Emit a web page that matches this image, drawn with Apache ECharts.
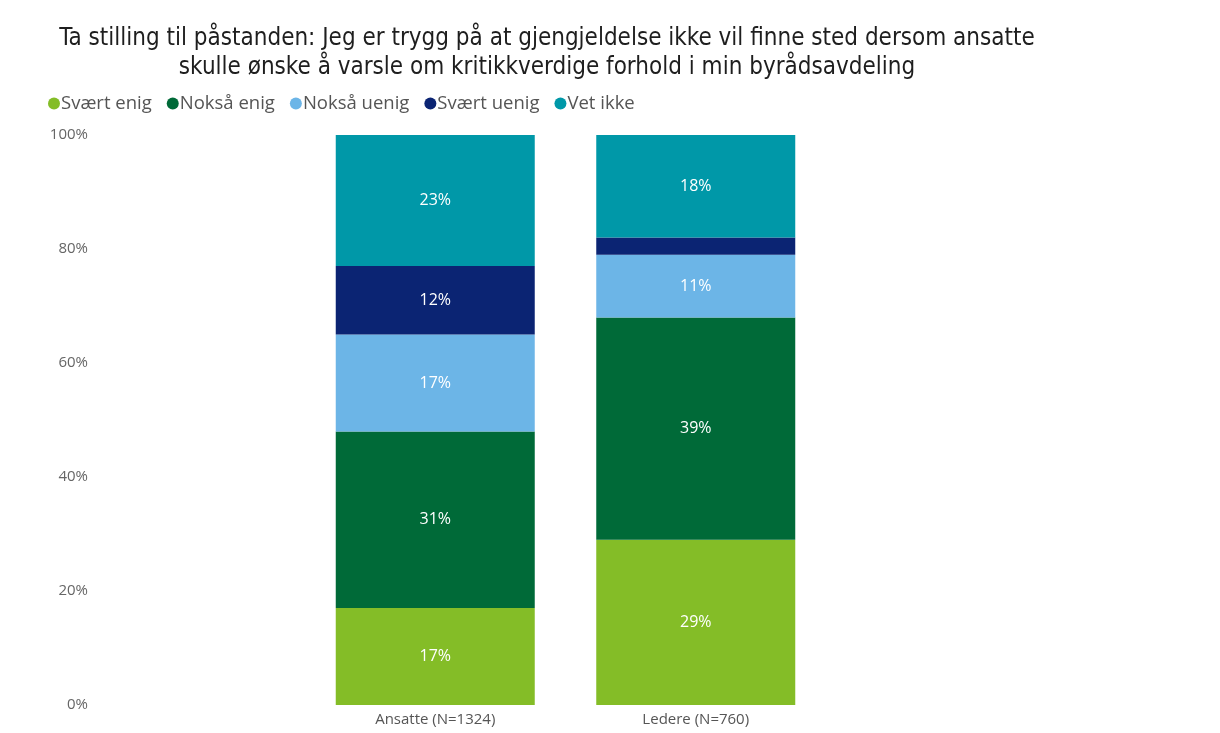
<!DOCTYPE html>
<html>
<head>
<meta charset="utf-8">
<script src="https://cdn.jsdelivr.net/npm/echarts@6/dist/echarts.min.js"></script>
<style>
  html, body { margin: 0; padding: 0; background: #fff; }
  #chart { width: 1220px; height: 733px; }
</style>
</head>
<body>
<div id="chart"></div>
<script>
const categories = ['Ansatte (N=1324)', 'Ledere (N=760)'];
const seriesNames = ['Svært enig', 'Nokså enig', 'Nokså uenig', 'Svært uenig', 'Vet ikke'];
const svaertEnig = [17, 29];
const noksaEnig = [31, 39];
const noksaUenig = [17, 11];
const svaertUenig = [12, 3];
const vetIkke = [23, 18];
const yTicks = [0, 20, 40, 60, 80, 100];

const colors = ['#84bd27', '#006a38', '#6cb5e7', '#0b2473', '#0098a8'];
const values = [svaertEnig, noksaEnig, noksaUenig, svaertUenig, vetIkke];

const chart = echarts.init(document.getElementById('chart'));

const option = {
  animation: false,
  title: {
    text: 'Ta stilling til påstanden: Jeg er trygg på at gjengjeldelse ikke vil finne sted dersom ansatte\nskulle ønske å varsle om kritikkverdige forhold i min byrådsavdeling',
    left: 542,
    top: 19,
    textAlign: 'center',
    textStyle: {
      fontFamily: 'DejaVu Sans Condensed',
      fontWeight: 'normal',
      fontSize: 24,
      lineHeight: 29,
      color: '#1e1e1e'
    }
  },
  legend: {
    left: 43,
    top: 89,
    icon: 'circle',
    itemWidth: 12,
    itemHeight: 12,
    itemGap: 15,
    data: seriesNames,
    textStyle: {
      fontFamily: 'Open Sans',
      fontSize: 18.5,
      color: '#555',
      padding: [0, 0, 0, -4]
    }
  },
  grid: {
    left: 305,
    right: 394,
    top: 135,
    bottom: 28,
    containLabel: false
  },
  xAxis: {
    type: 'category',
    data: categories,
    axisLine: { show: false },
    axisTick: { show: false },
    axisLabel: {
      margin: 7,
      fontFamily: 'Open Sans',
      fontSize: 15,
      color: '#555'
    }
  },
  yAxis: {
    type: 'value',
    min: 0,
    max: 100,
    interval: 20,
    splitLine: { show: false },
    axisLine: { show: false },
    axisTick: { show: false },
    axisLabel: {
      margin: 217,
      fontFamily: 'Open Sans',
      fontSize: 15,
      color: '#666',
      formatter: v => yTicks.includes(v) ? v + '%' : ''
    }
  },
  series: seriesNames.map((name, i) => ({
    name: name,
    type: 'bar',
    stack: 'total',
    barWidth: 199,
    itemStyle: { color: colors[i] },
    data: values[i],
    label: {
      show: true,
      position: 'inside',
      fontFamily: 'Open Sans',
      fontSize: 16,
      color: '#fff',
      formatter: p => p.value >= 5 ? p.value + '%' : ''
    }
  }))
};

chart.setOption(option);
</script>
</body>
</html>
